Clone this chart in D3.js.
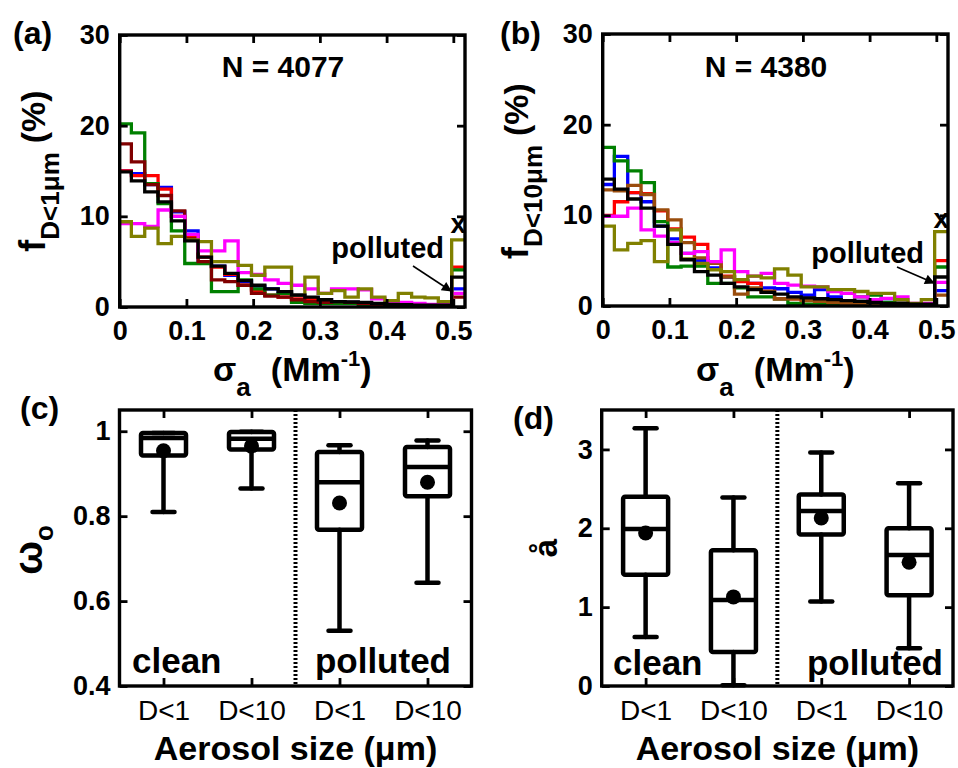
<!DOCTYPE html>
<html><head><meta charset="utf-8">
<script src="https://cdn.jsdelivr.net/npm/d3@7"></script>
<style>
body{margin:0;background:#fff}
text{font-family:Arial,"Liberation Sans",Helvetica,sans-serif;font-weight:bold;fill:#000}
</style></head>
<body><svg id="chart" width="958" height="768"></svg>
<script>
// ---------- DATA ----------
// stair-step edges of the sigma_a histogram (Mm^-1); last edge starts the "polluted" (x) bin
const sigmaEdges = [0, 0.0175, 0.0375, 0.0575, 0.0775, 0.0975, 0.1175, 0.1375, 0.1575, 0.1775,
  0.1975, 0.2175, 0.2375, 0.2575, 0.2775, 0.2975, 0.3175, 0.3375, 0.3575, 0.3775,
  0.3975, 0.4175, 0.4375, 0.4575, 0.4775, 0.4975];
const sigmaMax = 0.5175;
const sigmaTicks = [0, 0.1, 0.2, 0.3, 0.4, 0.5];
const fTicks = [0, 10, 20, 30];

// panel (a) f D<1um (%)
const aBlue    = [15.0,14.7,13.5,13.2,10.5,8.4,5.0,4.5,3.5,2.8,2.3,2.0,1.7,1.3,1.0,0.8,0.6,0.5,0.4,0.3,0.3,0.2,0.2,0.2,0.2,2.0];
const aRed     = [15.0,14.5,14.5,13.0,10.0,7.8,5.5,4.4,3.6,2.4,1.8,1.3,1.1,0.9,0.8,0.6,0.5,0.4,0.4,0.3,0.3,0.2,0.2,0.2,0.2,4.4];
const aGreen   = [20.2,19.2,13.6,11.4,8.4,4.8,4.8,1.7,1.7,3.0,2.0,1.3,1.5,0.5,0.4,0.4,0.4,0.4,0.3,0.1,0.1,0.1,0.1,0.1,0.1,4.1];
const aMaroon  = [18.0,16.0,13.5,12.3,10.6,7.5,5.0,3.0,2.8,2.4,1.5,1.2,1.1,0.8,0.6,0.5,0.6,0.5,0.4,0.3,0.2,0.2,0.2,0.2,0.2,1.1];
const aMagenta = [9.2,9.2,8.9,10.7,10.0,8.0,6.2,6.2,7.3,3.8,3.6,3.0,2.6,2.4,2.0,1.5,2.0,2.0,1.9,0.9,0.6,0.5,0.4,0.3,0.3,1.5];
const aOlive   = [9.4,7.8,8.7,7.0,7.8,7.4,7.2,5.0,5.0,4.6,3.5,4.4,4.4,1.3,3.3,1.5,1.8,1.1,2.0,1.1,0.7,1.5,1.1,1.0,0.6,7.4];
const aBlack   = [14.9,13.9,12.7,11.6,9.5,7.3,5.5,4.5,3.7,2.9,2.4,2.0,1.7,1.3,1.1,0.8,0.6,0.55,0.5,0.4,0.3,0.25,0.2,0.2,0.2,3.3];

// panel (b) f D<10um (%)
const bBlue    = [13.4,16.5,12.5,11.5,8.8,7.4,5.8,5.0,4.2,3.2,2.8,2.5,2.0,1.9,1.5,1.2,1.8,1.0,0.6,0.5,0.4,0.4,0.3,0.2,0.2,1.7];
const bRed     = [10.0,11.5,12.5,12.4,10.5,8.5,7.6,6.8,4.8,3.3,2.7,2.5,1.6,0.8,0.8,0.7,0.6,0.5,0.5,0.4,0.4,0.3,0.3,0.2,0.2,5.0];
const bGreen   = [17.5,16.0,14.9,13.6,9.3,4.3,4.4,4.4,2.5,2.5,2.0,1.0,1.0,0.8,0.3,0.2,0.2,0.3,0.5,1.0,1.2,0.4,0.3,0.2,0.2,4.3];
const bBrown   = [12.8,12.7,13.3,12.3,10.6,9.5,7.0,5.3,4.7,3.2,1.3,2.0,1.6,0.8,0.8,0.6,0.5,0.4,0.3,0.2,0.2,0.2,0.2,0.1,0.1,1.2];
const bMagenta = [9.9,9.9,10.8,8.4,7.7,7.0,5.8,6.0,4.9,6.2,3.8,3.3,3.6,2.5,2.3,2.2,2.1,1.6,1.4,1.0,0.7,0.85,1.0,0.3,0.3,2.6];
const bOlive   = [8.8,6.2,6.9,7.2,4.9,8.4,5.2,4.7,4.0,3.8,2.9,3.3,3.1,4.1,3.4,2.1,2.1,1.8,1.8,1.6,1.4,1.4,0.7,0.3,0.7,8.2];
const bBlack   = [14.0,12.9,11.8,10.8,8.8,6.8,5.1,3.8,3.4,2.5,2.1,1.8,1.5,1.3,1.0,0.9,0.8,0.7,0.6,0.5,0.4,0.3,0.3,0.2,0.2,3.2];

// box plots
const sizeCategories = ["D<1", "D<10", "D<1", "D<10"];
const ssaLow    = [0.81, 0.865, 0.53, 0.643];
const ssaQ1     = [0.943, 0.957, 0.768, 0.847];
const ssaMedian = [0.984, 0.982, 0.880, 0.916];
const ssaQ3     = [0.996, 0.998, 0.951, 0.963];
const ssaHigh   = [0.996, 0.999, 0.967, 0.978];
const ssaMean   = [0.954, 0.965, 0.831, 0.880];
const ssaTicks  = [0.4, 0.6, 0.8, 1];

const angLow    = [0.62, 0.01, 1.07, 0.48];
const angQ1     = [1.41, 0.43, 1.92, 1.15];
const angMedian = [1.99, 1.09, 2.22, 1.66];
const angQ3     = [2.40, 1.72, 2.43, 2.00];
const angHigh   = [3.27, 2.39, 2.96, 2.57];
const angMean   = [1.94, 1.13, 2.13, 1.57];
const angTicks  = [0, 1, 2, 3];

// ---------- DRAW ----------
const svg = d3.select("#chart");
const defs = svg.append("defs");
defs.append("marker").attr("id","arrow").attr("viewBox","0 0 10 10")
  .attr("refX",9).attr("refY",5).attr("markerWidth",14).attr("markerHeight",10)
  .attr("markerUnits","userSpaceOnUse").attr("orient","auto")
  .append("path").attr("d","M0,0 L10,5 L0,10 Z").attr("fill","#000");

function axesFrame(g, x, y, xTickVals, yTickVals, xFmt, yFmt, xPad, yPad, xFont, xWeight) {
  const [x0,x1] = x.range(), [y0,y1] = y.range();
  const ax = g.append("g").attr("transform",`translate(0,${y0})`)
    .call(d3.axisBottom(x).tickValues(xTickVals).tickSize(-8).tickPadding(xPad).tickFormat(xFmt));
  ax.selectAll("text").style("font-size",xFont).style("font-weight",xWeight);
  g.append("g").attr("transform",`translate(0,${y1})`)
    .call(d3.axisTop(x).tickValues(xTickVals).tickSize(-8).tickFormat(""));
  const ay = g.append("g").attr("transform",`translate(${x0},0)`)
    .call(d3.axisLeft(y).tickValues(yTickVals).tickSize(-8).tickPadding(yPad).tickFormat(yFmt));
  ay.selectAll("text").style("font-size","27px");
  g.append("g").attr("transform",`translate(${x1},0)`)
    .call(d3.axisRight(y).tickValues(yTickVals).tickSize(-8).tickFormat(""));
  g.selectAll(".domain").remove();
  g.selectAll(".tick line").attr("stroke","#000").attr("stroke-width",2.8);
  g.selectAll(".tick text").attr("fill","#000").style("font-family",'Arial,"Liberation Sans",sans-serif');
  g.append("rect").attr("x",x0).attr("y",y1).attr("width",x1-x0).attr("height",y0-y1)
    .attr("fill","none").attr("stroke","#000").attr("stroke-width",3.4);
}

const fmtSigma = d => d === 0 ? "0" : d3.format(".1f")(d);

function histPanel(id, left, right, top, bottom, series, nLabel, nX, ylabelSub, ylabX, polArrow) {
  const x = d3.scaleLinear().domain([0, sigmaMax]).range([left, right]);
  const y = d3.scaleLinear().domain([0, 30]).range([bottom, top]);
  const g = svg.append("g");
  defs.append("clipPath").attr("id","clip"+id).append("rect")
    .attr("x",left).attr("y",top).attr("width",right-left).attr("height",bottom-top);
  const line = d3.line().x(d=>x(d[0])).y(d=>y(d[1])).curve(d3.curveStepAfter);
  const lg = g.append("g").attr("clip-path",`url(#clip${id})`);
  series.forEach(s => {
    const pts = sigmaEdges.map((e,i)=>[e, s.values[i]]);
    pts.push([sigmaMax, s.values[s.values.length-1]]);
    lg.append("path").attr("d", line(pts)).attr("fill","none")
      .attr("stroke", s.color).attr("stroke-width",3.3).attr("stroke-linejoin","miter");
  });
  axesFrame(g, x, y, sigmaTicks, fTicks, fmtSigma, d3.format("d"), 14, 10, "27px", "bold");
  // N label
  g.append("text").attr("x",nX).attr("y",77).attr("text-anchor","middle")
    .style("font-size","30px").text(nLabel);
  // polluted annotation
  g.append("text").attr("x",polArrow.tx).attr("y",polArrow.ty).attr("text-anchor","end")
    .style("font-size","29px").text("polluted");
  g.append("line").attr("x1",polArrow.x1).attr("y1",polArrow.y1).attr("x2",polArrow.x2).attr("y2",polArrow.y2)
    .attr("stroke","#000").attr("stroke-width",1.5).attr("marker-end","url(#arrow)");
  g.append("text").attr("x",(x(sigmaEdges[sigmaEdges.length-1])+right)/2).attr("y",polArrow.xy)
    .attr("text-anchor","middle").style("font-size","28px").text("x");
  // y label
  const yl = g.append("text").attr("transform",`translate(${ylabX},171) rotate(-90)`)
    .attr("text-anchor","middle");
  yl.append("tspan").style("font-size","36px").text("f");
  yl.append("tspan").style("font-size","26px").attr("dy",14).text(ylabelSub);
  yl.append("tspan").style("font-size","34px").attr("dy",-14).attr("dx",9).text("(%)");
  // x label
  const xl = g.append("text").attr("x",(left+right)/2).attr("y",381).attr("text-anchor","middle");
  xl.append("tspan").style("font-size","34px").text("σ");
  xl.append("tspan").style("font-size","26px").attr("dy",15).text("a");
  xl.append("tspan").style("font-size","34px").attr("dy",-15).attr("dx",20).text("(Mm");
  xl.append("tspan").style("font-size","22px").attr("dy",-15).text("-1");
  xl.append("tspan").style("font-size","34px").attr("dy",15).text(")");
}

histPanel("a", 119.7, 465, 35, 307, [
  {color:"#0000ff", values:aBlue},
  {color:"#ff0000", values:aRed},
  {color:"#008000", values:aGreen},
  {color:"#800000", values:aMaroon},
  {color:"#ff00ff", values:aMagenta},
  {color:"#808000", values:aOlive},
  {color:"#000000", values:aBlack}
], "N = 4077", 283, "D<1μm", 45,
  {tx:444, ty:258, x1:413, y1:266, x2:451, y2:291, xy:233});

histPanel("b", 602.7, 948, 34, 306, [
  {color:"#0000ff", values:bBlue},
  {color:"#ff0000", values:bRed},
  {color:"#008000", values:bGreen},
  {color:"#9a4d0d", values:bBrown},
  {color:"#ff00ff", values:bMagenta},
  {color:"#808000", values:bOlive},
  {color:"#000000", values:bBlack}
], "N = 4380", 766, "D<10μm", 528,
  {tx:924, ty:263, x1:897, y1:267, x2:934, y2:283, xy:228});

function boxPanel(left, right, top, bottom, yDomain, yTickVals, yFmt, stats, yPad) {
  const x = d3.scaleLinear().domain([0.5, 4.5]).range([left, right]);
  const y = d3.scaleLinear().domain(yDomain).range([bottom, top]);
  const g = svg.append("g");
  // divider
  g.append("line").attr("x1",x(2.5)).attr("x2",x(2.5)).attr("y1",top).attr("y2",bottom)
    .attr("stroke","#000").attr("stroke-width",4).attr("stroke-dasharray","2,2");
  const bw = 45, cw = 22;
  sizeCategories.forEach((c,i) => {
    const cx = x(i+1);
    const st = {lo:stats.low[i], q1:stats.q1[i], md:stats.median[i], q3:stats.q3[i], hi:stats.high[i], mn:stats.mean[i]};
    const sty = s => s.attr("stroke","#000").attr("stroke-width",4.5).attr("stroke-linecap","round");
    sty(g.append("line").attr("x1",cx).attr("x2",cx).attr("y1",y(st.lo)).attr("y2",y(st.q1)));
    sty(g.append("line").attr("x1",cx).attr("x2",cx).attr("y1",y(st.q3)).attr("y2",y(st.hi)));
    sty(g.append("line").attr("x1",cx-cw/2).attr("x2",cx+cw/2).attr("y1",y(st.lo)).attr("y2",y(st.lo)));
    sty(g.append("line").attr("x1",cx-cw/2).attr("x2",cx+cw/2).attr("y1",y(st.hi)).attr("y2",y(st.hi)));
    g.append("rect").attr("x",cx-bw/2).attr("width",bw).attr("y",y(st.q3)).attr("height",y(st.q1)-y(st.q3))
      .attr("fill","none").attr("stroke","#000").attr("stroke-width",4.5).attr("rx",2);
    g.append("line").attr("x1",cx-bw/2).attr("x2",cx+bw/2).attr("y1",y(st.md)).attr("y2",y(st.md))
      .attr("stroke","#000").attr("stroke-width",4.5);
    g.append("circle").attr("cx",cx).attr("cy",y(st.mn)).attr("r",7.5).attr("fill","#000");
  });
  axesFrame(g, x, y, [1,2,3,4], yTickVals, (d)=>sizeCategories[d-1], yFmt, 14, yPad, "28px", "normal");
  g.append("text").attr("x",(left+right)/2).attr("y",760).attr("text-anchor","middle")
    .style("font-size","34px").text("Aerosol size (μm)");
  return {g, x, y};
}

const c = boxPanel(119.5, 471.5, 410, 686, [0.4, 1.05], ssaTicks, d=> d===1 ? "1" : d3.format(".1f")(d),
  {low:ssaLow, q1:ssaQ1, median:ssaMedian, q3:ssaQ3, high:ssaHigh, mean:ssaMean}, 9);
c.g.append("text").attr("x",132).attr("y",673).style("font-size","35px").text("clean");
c.g.append("text").attr("x",451).attr("y",673).attr("text-anchor","end").style("font-size","35px").text("polluted");
const cy = c.g.append("text").attr("transform","translate(42,550) rotate(-90)").attr("text-anchor","middle");
cy.append("tspan").style("font-size","40px").text("ω");
cy.append("tspan").style("font-size","26px").attr("dy",11).text("o");

const dP = boxPanel(601.7, 953, 410, 686, [0, 3.5], angTicks, d3.format("d"),
  {low:angLow, q1:angQ1, median:angMedian, q3:angQ3, high:angHigh, mean:angMean}, 9);
dP.g.append("text").attr("x",613).attr("y",675).style("font-size","35px").text("clean");
dP.g.append("text").attr("x",943).attr("y",675).attr("text-anchor","end").style("font-size","35px").text("polluted");
dP.g.append("text").attr("transform","translate(557,548) rotate(-90)").attr("text-anchor","middle")
  .style("font-size","33px").text("å");

// panel letters
[["(a)",13,44],["(b)",500,44],["(c)",20,419],["(d)",513,429]].forEach(p=>{
  svg.append("text").attr("x",p[1]).attr("y",p[2]).style("font-size","32px").text(p[0]);
});
</script></body></html>
